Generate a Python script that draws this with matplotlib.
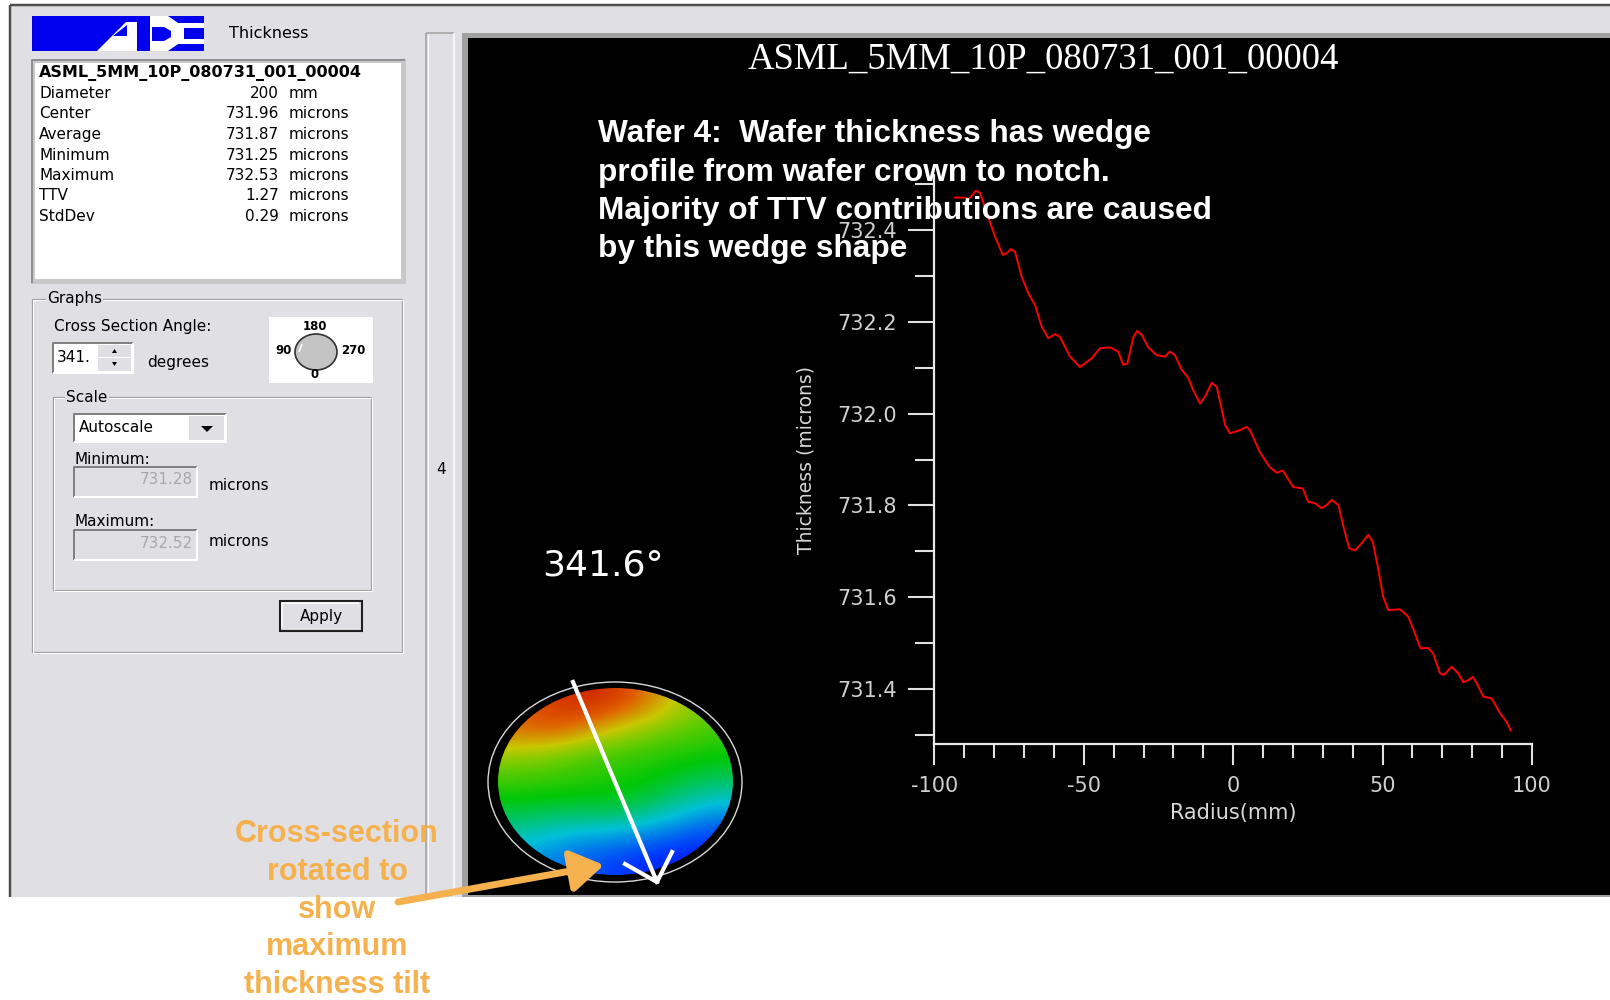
import numpy as np
import matplotlib
matplotlib.use('Agg')
import matplotlib.pyplot as plt
from matplotlib.patches import Rectangle, Ellipse, Polygon
from matplotlib.colors import LinearSegmentedColormap, Normalize

# cross-section profile
radius_mm = [-93.1, -89.8, -88.7, -86.1, -84.7, -82.0, -79.7, -77.1, -75.8, -74.4,
             -73.0, -70.8, -68.6, -66.3, -64.1, -61.9, -59.6, -58.0, -54.6, -51.3,
             -47.4, -44.6, -41.2, -38.5, -36.8, -35.4, -33.4, -32.1, -30.6, -28.4,
             -25.6, -22.8, -21.2, -19.5, -17.2, -15.0, -13.4, -11.1, -9.4, -7.2,
             -5.5, -3.8, -2.7, -1.1, 2.3, 4.5, 5.6, 9.0, 12.3, 14.6,
             16.6, 20.1, 23.3, 25.1, 27.4, 29.6, 31.3, 33.0, 35.2, 36.9,
             38.8, 40.8, 43.0, 45.2, 46.7, 48.6, 50.2, 51.9, 55.8, 58.6,
             60.8, 62.7, 65.3, 66.9, 69.2, 70.5, 73.1, 75.3, 77.0, 78.7,
             80.2, 81.5, 83.7, 86.5, 89.3, 91.5, 92.9]
thickness_um = [732.470, 732.470, 732.465, 732.485, 732.480, 732.428, 732.385, 732.345, 732.349, 732.358,
                732.352, 732.298, 732.262, 732.236, 732.189, 732.164, 732.173, 732.167, 732.124, 732.101,
                732.120, 732.142, 732.144, 732.135, 732.106, 732.109, 732.167, 732.180, 732.171, 732.144,
                732.127, 732.124, 732.135, 732.127, 732.095, 732.077, 732.051, 732.022, 732.037, 732.067,
                732.058, 732.008, 731.975, 731.957, 731.964, 731.971, 731.964, 731.915, 731.883, 731.871,
                731.876, 731.840, 731.837, 731.808, 731.805, 731.794, 731.801, 731.812, 731.801, 731.754,
                731.707, 731.702, 731.718, 731.736, 731.721, 731.660, 731.601, 731.572, 731.574, 731.558,
                731.522, 731.489, 731.490, 731.478, 731.435, 731.431, 731.449, 731.435, 731.415, 731.420,
                731.427, 731.413, 731.384, 731.380, 731.348, 731.329, 731.310]

x_major = [-100, -50, 0, 50, 100]
x_minor = [-90, -80, -70, -60, -40, -30, -20, -10, 10, 20, 30, 40, 60, 70, 80, 90]
y_major = [731.4, 731.6, 731.8, 732.0, 732.2, 732.4]
y_minor = [731.3, 731.5, 731.7, 731.9, 732.1, 732.3, 732.5]
scale_min, scale_max = 731.28, 732.52

file_name = 'ASML_5MM_10P_080731_001_00004'
stat_names = ['Diameter', 'Center', 'Average', 'Minimum', 'Maximum', 'TTV', 'StdDev']
stat_values = ['200', '731.96', '731.87', '731.25', '732.53', '1.27', '0.29']
stat_units = ['mm', 'microns', 'microns', 'microns', 'microns', 'microns', 'microns']
angle_deg = 341.6

# coarse thickness map of the wafer (rows top -> bottom), estimated from colours
wafer_map = [
    [732.30, 732.38, 732.45, 732.40, 732.25, 732.10, 732.00],
    [732.28, 732.33, 732.25, 732.12, 732.05, 731.98, 731.94],
    [732.06, 732.02, 731.96, 731.93, 731.90, 731.88, 731.85],
    [731.92, 731.91, 731.89, 731.87, 731.84, 731.78, 731.74],
    [731.80, 731.78, 731.78, 731.79, 731.73, 731.65, 731.58],
    [731.66, 731.62, 731.58, 731.57, 731.52, 731.47, 731.42],
    [731.56, 731.52, 731.46, 731.42, 731.38, 731.36, 731.36],
]

note_lines = ['Wafer 4:  Wafer thickness has wedge',
              'profile from wafer crown to notch.',
              'Majority of TTV contributions are caused',
              'by this wedge shape']
callout_lines = ['Cross-section', 'rotated to', 'show', 'maximum', 'thickness tilt']

W, H = 1610, 1000
GRAY = '#e0dfe3'
DARK = '#808080'
ORANGE = '#f5b14e'
PX = 0.72  # one pixel in points

fig = plt.figure(figsize=(W / 100, H / 100), dpi=100)
fig.patch.set_facecolor('white')

bg = fig.add_axes([0, 0, 1, 1], zorder=1)
fg = fig.add_axes([0, 0, 1, 1], zorder=3)
for a in (bg, fg):
    a.set_xlim(0, W)
    a.set_ylim(H, 0)
    a.axis('off')
    a.patch.set_alpha(0)


def box(x0, y0, x1, y1, ax=bg, **kw):
    kw.setdefault('lw', 0)
    ax.add_patch(Rectangle((x0, y0), x1 - x0, y1 - y0, **kw))


def line(xs, ys, c, lw=1, ax=bg):
    ax.plot(xs, ys, color=c, lw=lw * PX, solid_capstyle='butt')


def label(x, y, s, size=11, ax=bg, **kw):
    kw.setdefault('va', 'center')
    kw.setdefault('family', 'DejaVu Sans')
    ax.text(x, y, s, fontsize=size, **kw)


def sunken(x0, y0, x1, y1, fc='white'):
    box(x0, y0, x1, y1, fc=fc)
    line([x0, x0, x1], [y1, y0, y0], DARK, 2)
    line([x0, x1, x1], [y1, y1, y0], 'white', 2)


def group(x0, y0, x1, y1, title, tx):
    line([x0, x1, x1, x0, x0], [y0, y0, y1, y1, y0], '#a0a0a0', 1.2)
    line([x0 + 1, x1 + 1, x1 + 1, x0 + 1, x0 + 1], [y0 + 1, y0 + 1, y1 + 1, y1 + 1, y0 + 1], 'white', 1)
    label(tx, y0, title, bbox=dict(fc=GRAY, ec='none', pad=1))


# window background and borders
box(10, 5, W, 897, fc=GRAY)
line([10, W], [5, 5], '#505050', 2.5)
line([10, 10], [5, 897], '#505050', 2.5)

# logo
box(32, 16, 204, 51, fc='#0000ee')
bg.add_patch(Polygon([(97, 51), (126, 22), (137, 22), (137, 51)], fc='white', lw=0))
bg.add_patch(Polygon([(113, 36), (127, 25), (127, 36)], fc='#0000ee', lw=0))
bg.add_patch(Polygon([(150, 16), (168, 16), (184, 27), (184, 40), (168, 51), (150, 51)], fc='white', lw=0))
bg.add_patch(Polygon([(152, 27), (164, 27), (171, 31), (171, 37), (164, 41), (152, 41)], fc='#0000ee', lw=0))
box(178, 23, 204, 28, fc='white')
box(178, 39, 204, 44, fc='white')
label(229, 33, 'Thickness', 11.5)

# statistics list
box(31, 59, 406, 284, fc='#c8c8c8')
line([32, 32, 405], [283, 60, 60], '#909090', 2)
box(35, 63, 401, 279, fc='white')
label(39, 73, file_name, 11.5, weight='bold')
for i, name in enumerate(stat_names):
    yy = 93.5 + i * 20.5
    label(39, yy, name, 11)
    label(279, yy, stat_values[i], 11, ha='right')
    label(289, yy, stat_units[i], 11)

# graphs group
group(32, 299, 402, 652, 'Graphs', 47)
label(54, 326, 'Cross Section Angle:', 11)
sunken(53, 343, 133, 373)
box(98, 345, 131, 357, fc=GRAY)
box(98, 358, 131, 371, fc=GRAY)
bg.add_patch(Polygon([(112, 353), (117, 353), (114.5, 349)], fc='black', lw=0))
bg.add_patch(Polygon([(112, 362), (117, 362), (114.5, 366)], fc='black', lw=0))
label(57, 357, '%d.' % int(angle_deg), 11)
label(147, 362, 'degrees', 11)

box(269, 317, 373, 383, fc='white')
bg.add_patch(Ellipse((316, 352), 42, 36, fc='#c4c4c4', ec='#303030', lw=1.2))
line([302, 299], [344, 352], 'white', 1.5)
label(315, 326, '180', 8.5, ha='center', weight='bold')
label(284, 351, '90', 8.5, ha='center', weight='bold')
label(353, 351, '270', 8.5, ha='center', weight='bold')
label(315, 375, '0', 8.5, ha='center', weight='bold')

group(53, 397, 371, 590, 'Scale', 66)
sunken(74, 414, 226, 442)
box(189, 416, 224, 440, fc=GRAY)
bg.add_patch(Polygon([(201, 426), (213, 426), (207, 432)], fc='black', lw=0))
label(79, 428, 'Autoscale', 11)

label(74, 459, 'Minimum:', 11)
sunken(74, 467, 197, 497, fc=GRAY)
label(193, 480, '%.2f' % scale_min, 11, ha='right', color='#a8a8a8')
label(209, 486, 'microns', 11)
label(74, 521, 'Maximum:', 11)
sunken(74, 530, 197, 560, fc=GRAY)
label(193, 543, '%.2f' % scale_max, 11, ha='right', color='#a8a8a8')
label(209, 541, 'microns', 11)

box(280, 601, 362, 631, fc=GRAY, ec='#202020', lw=1.5)
line([282, 282, 359], [628, 603, 603], 'white', 1.5)
label(321, 616, 'Apply', 11, ha='center')

# thin side strip
line([426, 426], [33, 897], '#a0a0a0', 1.5)
line([428, 428], [35, 897], 'white', 1)
line([426, 454], [33, 33], '#a0a0a0', 1.5)
line([454, 454], [33, 897], 'white', 1.5)
label(441, 469, '4', 11, ha='center')

# black graph panel
box(462, 33, W, 897, fc='#a0a0a0')
box(468, 38, W, 895, fc='black')
label(1043, 59, file_name, 26.5, ha='center', color='white', family='Liberation Serif')

# profile plot
ax = fig.add_axes([934.4 / W, 1 - 744.4 / H, 597.6 / W, 569.8 / H], zorder=2)
ax.patch.set_alpha(0)
ax.plot(radius_mm, thickness_um, color='#ff0000', lw=1.4)
ax.set_xlim(-100, 100)
ax.set_ylim(scale_min, scale_max)
for s in ('top', 'right'):
    ax.spines[s].set_visible(False)
for s in ('left', 'bottom'):
    ax.spines[s].set_color('#e8e8e8')
    ax.spines[s].set_linewidth(1.6)
ax.set_xticks(x_major)
ax.set_xticks(x_minor, minor=True)
ax.set_xticklabels([str(v) for v in x_major])
ax.set_yticks(y_major)
ax.set_yticks(y_minor, minor=True)
ax.set_yticklabels(['%.1f' % v for v in y_major])
ax.tick_params(axis='x', which='major', length=15, width=1.5, pad=8, colors='#e0e0e0', labelsize=15)
ax.tick_params(axis='x', which='minor', length=10, width=1.5, colors='#e0e0e0')
ax.tick_params(axis='y', which='major', length=19, width=1.5, pad=8, colors='#e0e0e0', labelsize=15)
ax.tick_params(axis='y', which='minor', length=14, width=1.5, colors='#e0e0e0')
for t in ax.get_xticklabels() + ax.get_yticklabels():
    t.set_color('#d0d0d0')
ax.set_xlabel('Radius(mm)', fontsize=15, color='#d8d8d8', va='center')
ax.xaxis.set_label_coords(0.5, -0.12)
ax.set_ylabel('Thickness (microns)', fontsize=13.5, color='#d8d8d8', va='center')
ax.yaxis.set_label_coords(-0.215, 0.5)

# wafer map
cmap = LinearSegmentedColormap.from_list('wafer', [
    (0.0, '#0000b0'), (0.1, '#0030ff'), (0.27, '#00c0d8'), (0.45, '#00c808'),
    (0.58, '#70cc00'), (0.68, '#c8c800'), (0.82, '#e06000'), (1.0, '#c80800')])
im = fg.imshow(wafer_map, cmap=cmap, norm=Normalize(scale_min, scale_max),
               extent=(498, 733, 875, 688), interpolation='bicubic', aspect='auto', zorder=2)
clip = Ellipse((615.5, 781.5), 235, 187, fc='none', ec='none', transform=fg.transData)
fg.add_patch(clip)
im.set_clip_path(clip)
fg.add_patch(Ellipse((615, 782), 254, 200, fc='none', ec='#d8d8d8', lw=1, zorder=3))
fg.set_xlim(0, W)
fg.set_ylim(H, 0)
fg.plot([573, 657], [682, 882], color='white', lw=3, zorder=4)
fg.plot([625, 657, 672], [864, 882, 852], color='white', lw=3, zorder=4)
label(542, 565, '%.1f°' % angle_deg, 26, ax=fg, color='white')

# notes
for i, s in enumerate(note_lines):
    label(598, 134 + i * 38.5, s, 22.8, ax=fg, color='white', weight='bold', family='Liberation Sans')
for i, s in enumerate(callout_lines):
    label(337, 834 + i * 37.8, s, 22, ax=fg, ha='center', color=ORANGE, weight='bold',
          family='Liberation Sans')
fg.annotate('', xy=(604, 865), xytext=(398, 902),
            arrowprops=dict(arrowstyle='-|>,head_length=1.1,head_width=0.7', lw=5,
                            color=ORANGE, mutation_scale=18, shrinkA=0, shrinkB=0), zorder=5)

fig.savefig('out.png', dpi=100, facecolor='white')
